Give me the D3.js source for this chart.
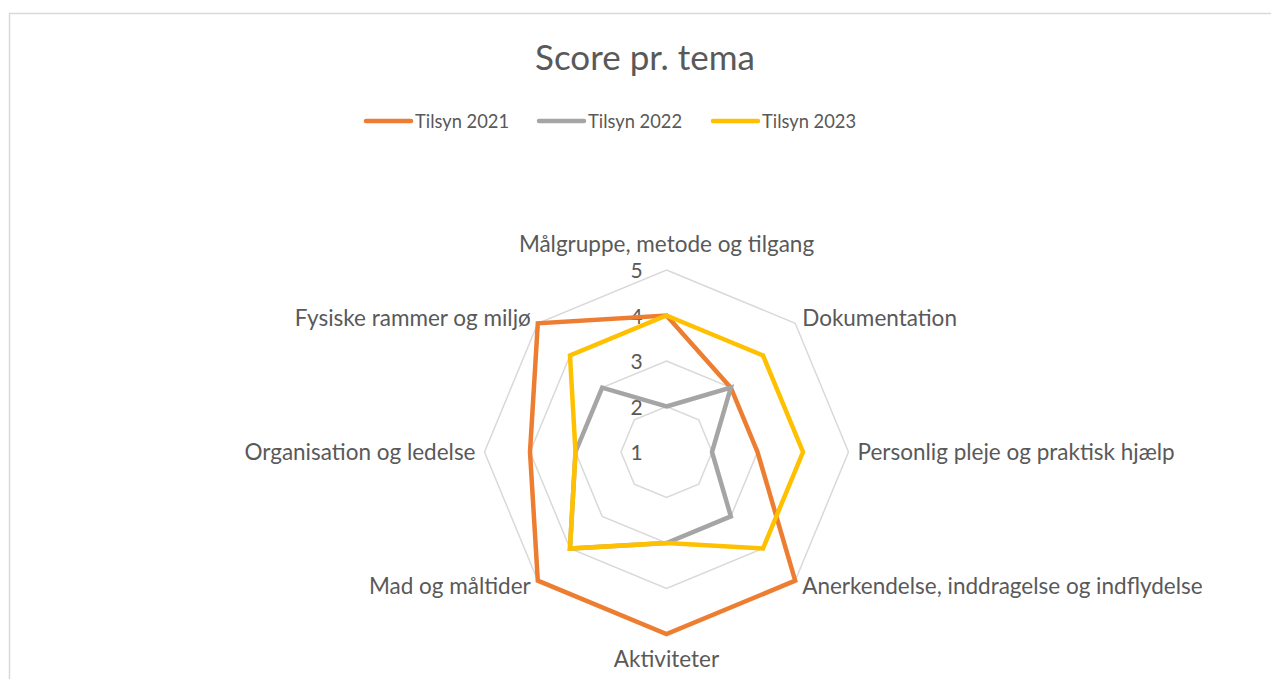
<!DOCTYPE html>
<html><head><meta charset="utf-8">
<script src="https://cdn.jsdelivr.net/npm/d3@7"></script>
<style>body{margin:0;background:#fff;}svg{display:block;font-family:Lato,"Open Sans",sans-serif;}</style>
</head><body>
<script>
const categories = ["Målgruppe, metode og tilgang","Dokumentation","Personlig pleje og praktisk hjælp","Anerkendelse, inddragelse og indflydelse","Aktiviteter","Mad og måltider","Organisation og ledelse","Fysiske rammer og miljø"];
const seriesNames = ["Tilsyn 2021","Tilsyn 2022","Tilsyn 2023"];
const tilsyn2021 = [4,3,3,5,5,5,4,5];
const tilsyn2022 = [2,3,2,3,3,4,3,3];
const tilsyn2023 = [4,4,4,4,3,4,3,4];
const tickLabels = [1,2,3,4,5];
const colors = ["#ED7D31","#A5A5A5","#FFC000"];

const W=1271,H=679;
const svg=d3.select("body").append("svg").attr("width",W).attr("height",H);
svg.append("rect").attr("x",9.5).attr("y",13.5).attr("width",1300).attr("height",700).attr("fill","#fff").attr("stroke","#d9d9d9").attr("stroke-width",1.5);

const cx=666.5, cy=452, R=182;
const r=d3.scaleLinear().domain([1,5]).range([0,R]);
const ang=d3.scaleLinear().domain([0,categories.length]).range([0,2*Math.PI]);
const pt=(i,v)=>[cx+r(v)*Math.sin(ang(i)), cy-r(v)*Math.cos(ang(i))];

// grid
tickLabels.slice(1).forEach(t=>{
  const pts=categories.map((c,i)=>pt(i,t));
  svg.append("polygon").attr("points",pts.map(p=>p.join(",")).join(" "))
    .attr("fill","none").attr("stroke","#d9d9d9").attr("stroke-width",1.5);
});
// tick labels
tickLabels.forEach(t=>{
  svg.append("text").attr("x",cx-30).attr("y",cy-r(t)+1).attr("dy","0.35em")
    .attr("text-anchor","middle").attr("font-size",21).attr("fill","#595959").text(t);
});
// series
const all=[tilsyn2021,tilsyn2022,tilsyn2023];
all.forEach((s,k)=>{
  const pts=s.map((v,i)=>pt(i,v));
  svg.append("polygon").attr("points",pts.map(p=>p.join(",")).join(" "))
    .attr("fill","none").attr("stroke",colors[k]).attr("stroke-width",4.5).attr("stroke-linejoin","miter");
});
// category labels
categories.forEach((c,i)=>{
  const a=ang(i);
  const [x,y]=pt(i,5);
  const s=Math.sin(a), co=Math.cos(a);
  let anchor = Math.abs(s)<0.01?"middle":(s>0?"start":"end");
  let lx=x+s*9, ly=y-co*9;
  if(Math.abs(s)<0.01){ ly = co>0? y-26 : y+25; }
  else if(Math.abs(co)>0.01){ ly = y + (co>0?-5:5); lx = x + (s>0?7:-7); }
  svg.append("text").attr("x",lx).attr("y",ly).attr("dy","0.35em").attr("text-anchor",anchor)
    .attr("font-size",22.5).attr("fill","#595959").text(c);
});
// title
svg.append("text").attr("x",645).attr("y",58).attr("dy","0.35em").attr("text-anchor","middle")
  .attr("font-size",35).attr("fill","#595959").text("Score pr. tema");
// legend
const legX=[364,537,711];
seriesNames.forEach((n,k)=>{
  const g=svg.append("g").attr("transform",`translate(${legX[k]},121)`);
  g.append("line").attr("x1",2).attr("x2",47).attr("stroke",colors[k]).attr("stroke-width",4.5).attr("stroke-linecap","round");
  g.append("text").attr("x",51).attr("dy","0.35em").attr("font-size",19.5).attr("fill","#595959")
    .attr("textLength",94).attr("lengthAdjust","spacingAndGlyphs").text(n);
});
</script>
</body></html>
